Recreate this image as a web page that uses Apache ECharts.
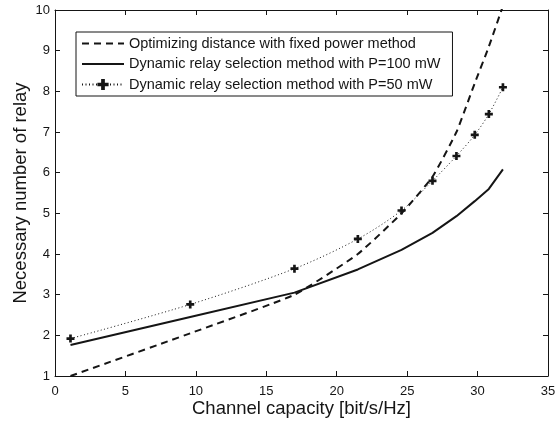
<!DOCTYPE html>
<html><head><meta charset="utf-8">
<script src="https://cdn.jsdelivr.net/npm/echarts@6/dist/echarts.min.js"></script>
<style>html,body{margin:0;padding:0;background:#fff}#c{width:556px;height:423px}</style>
</head><body><div id="c"></div>
<script>
var capacity = [1.1, 9.6, 17.0, 21.5, 24.6, 26.8, 28.5, 29.8, 30.8, 31.8];
var fixedPower = [1.0, 2.05, 3.0, 4.0, 5.0, 5.9, 7.0, 8.2, 9.1, 10.1];
var dyn100 = [1.76, 2.45, 3.05, 3.62, 4.1, 4.52, 4.93, 5.3, 5.6, 6.08];
var dyn50 = [1.92, 2.76, 3.64, 4.37, 5.07, 5.8, 6.41, 6.93, 7.44, 8.1];
var xTicks = [0, 5, 10, 15, 20, 25, 30, 35];
var yTicks = [1, 2, 3, 4, 5, 6, 7, 8, 9, 10];
var names = ['Optimizing distance with fixed power method',
             'Dynamic relay selection method with P=100 mW',
             'Dynamic relay selection method with P=50 mW'];

function pairs(ys){ return capacity.map(function(x,i){ return [x, ys[i]]; }); }
var plus = 'path://M2,0H4V2H6V4H4V6H2V4H0V2H2Z';
var ink = '#151515';
var font = 'Liberation Sans, Arial, sans-serif';

var chart = echarts.init(document.getElementById('c'), null, {renderer:'canvas'});
var axisCommon = {
  type:'value', axisLine:{show:true, onZero:false, lineStyle:{color:ink, width:1}},
  axisTick:{show:true, inside:true, length:5, lineStyle:{color:ink}},
  splitLine:{show:false}
};
chart.setOption({
  animation:false,
  backgroundColor:'#fff',
  grid:{left:55, right:8, top:10, bottom:47, containLabel:false, outerBoundsMode:'none'},
  xAxis:[
    Object.assign({}, axisCommon, {position:'bottom', min:xTicks[0], max:xTicks[xTicks.length-1], interval:5,
      name:'Channel capacity [bit/s/Hz]', nameLocation:'middle', nameGap:23, nameMoveOverlap:false,
      nameTextStyle:{color:ink, fontSize:18.5, fontFamily:font},
      axisLabel:{color:ink, fontSize:13, fontFamily:font, margin:9}}),
    Object.assign({}, axisCommon, {position:'top', min:xTicks[0], max:xTicks[xTicks.length-1], interval:5,
      axisLabel:{show:false}})
  ],
  yAxis:[
    Object.assign({}, axisCommon, {position:'left', min:yTicks[0], max:yTicks[yTicks.length-1], interval:1,
      name:'Necessary number of relay', nameLocation:'middle', nameGap:25, nameMoveOverlap:false,
      nameTextStyle:{color:ink, fontSize:18.5, fontFamily:font},
      axisLabel:{color:ink, fontSize:13, fontFamily:font, margin:5}}),
    Object.assign({}, axisCommon, {position:'right', min:yTicks[0], max:yTicks[yTicks.length-1], interval:1,
      axisLabel:{show:false}})
  ],
  legend:{
    show:true, orient:'vertical', left:76, top:32,
    backgroundColor:'#fff', borderColor:ink, borderWidth:1,
    padding:[4, 12, 4, 5], itemGap:5.5, itemWidth:42, itemHeight:14,
    textStyle:{color:ink, fontSize:14.5, fontFamily:font},
    data:[
      {name:names[0], itemStyle:{opacity:0}},
      {name:names[1], itemStyle:{opacity:0}},
      {name:names[2]}
    ]
  },
  series:[
    {name:names[0], type:'line', data:pairs(fixedPower), showSymbol:false, symbol:'none',
     smooth:0.15,
     lineStyle:{color:ink, width:2, type:[7,5]}, itemStyle:{color:ink}, clip:true, z:3},
    {name:names[1], type:'line', data:pairs(dyn100), showSymbol:false, symbol:'none',
     lineStyle:{color:ink, width:2, type:'solid'}, itemStyle:{color:ink}, clip:true, z:3},
    {name:names[2], type:'line', data:pairs(dyn50), symbol:plus, symbolSize:8, showSymbol:true,
     smooth:0.3,
     lineStyle:{color:ink, width:1, type:[1,2.5]}, itemStyle:{color:ink}, clip:true, z:4}
  ]
});
</script></body></html>
